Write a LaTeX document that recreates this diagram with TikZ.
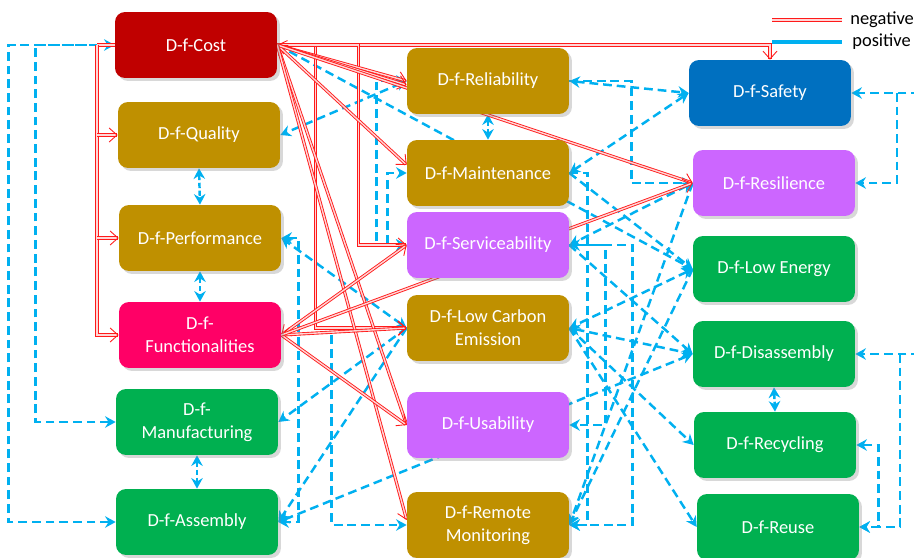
\documentclass[tikz,border=0pt]{standalone}
\usepackage{fontspec}
\setmainfont{Carlito}
\usetikzlibrary{arrows.meta,backgrounds,shadows}
\definecolor{costred}{HTML}{C00000}
\definecolor{gold}{HTML}{BF9000}
\definecolor{funcpink}{HTML}{FF0066}
\definecolor{grn}{HTML}{00B050}
\definecolor{purp}{HTML}{CC66FF}
\definecolor{safeblue}{HTML}{0070C0}
\definecolor{posblue}{HTML}{00B0F0}
\definecolor{negred}{HTML}{FF1A1A}
\definecolor{negfill}{HTML}{FFD6D6}
\begin{document}
\begin{tikzpicture}[x=0.02cm,y=-0.02cm,
 box/.style={rounded corners=0.2cm, minimum width=3.24cm, minimum height=1.32cm, text=white, align=center,
   font=\fontsize{10.5}{13}\selectfont, inner sep=2pt,
   drop shadow={opacity=0.3,shadow xshift=0.6mm,shadow yshift=-0.6mm}},
 posline/.style={draw=posblue, line width=1.4pt, dash pattern=on 5pt off 2.8pt, -{Stealth[length=6pt,width=6.5pt]}},
 posboth/.style={posline, {Stealth[length=6pt,width=6.5pt]}-{Stealth[length=6pt,width=6.5pt]}},
 posshort/.style={posboth, dash pattern=on 3pt off 1.5pt},
 negline/.style={draw=negred, line width=0.5pt, double=negfill, double distance=0.8pt, -{Straight Barb[length=4.5pt,width=8pt]}},
 negboth/.style={negline, {Straight Barb[length=4.5pt,width=8pt]}-{Straight Barb[length=4.5pt,width=8pt]}},
 negplain/.style={negline, -},
 legtext/.style={font=\fontsize{10.5}{13}\selectfont, text=black, anchor=west, inner sep=0pt}
]
\useasboundingbox (0,0) rectangle (914,558);

% nodes
\node[box, fill=costred] (cost) at (196,45) {D-f-Cost};
\node[box, fill=gold] (quality) at (199,135) {D-f-Quality};
\node[box, fill=gold] (perf) at (200,238) {D-f-Performance};
\node[box, fill=funcpink] (func) at (200,335) {D-f-\\Functionalities};
\node[box, fill=grn] (manu) at (197,422) {D-f-\\Manufacturing};
\node[box, fill=grn] (asm) at (197,522) {D-f-Assembly};

\node[box, fill=gold] (rel) at (488,81) {D-f-Reliability};
\node[box, fill=gold] (maint) at (488,173) {D-f-Maintenance};
\node[box, fill=purp] (serv) at (488,245) {D-f-Serviceability};
\node[box, fill=gold] (lce) at (488,328) {D-f-Low Carbon\\Emission};
\node[box, fill=purp] (usab) at (488,425) {D-f-Usability};
\node[box, fill=gold] (remote) at (488,525) {D-f-Remote\\Monitoring};

\node[box, fill=safeblue] (safety) at (770,93) {D-f-Safety};
\node[box, fill=purp] (resil) at (774,183) {D-f-Resilience};
\node[box, fill=grn] (lowen) at (774,269) {D-f-Low Energy};
\node[box, fill=grn] (disasm) at (774,354) {D-f-Disassembly};
\node[box, fill=grn] (recyc) at (775,445) {D-f-Recycling};
\node[box, fill=grn] (reuse) at (778,527) {D-f-Reuse};

% legend
\node[legtext] (negtxt) at (850,20) {negative};
\node[legtext] (postxt) at (852,42) {positive};
\coordinate (lnA) at (772,20);
\coordinate (lpA) at (772,42);

\coordinate (rb) at (97,45);
\coordinate (rA) at (920,93);
\coordinate (rB) at (920,354);

\begin{scope}[on background layer]
\fill[white] (0,0) rectangle (914,558);
% legend lines
\draw[negplain, line width=0.6pt, double distance=1.2pt] (lnA) -- ([xshift=-0.16cm]negtxt.west);
\draw[draw=posblue, line width=2.2pt] (lpA) -- ([xshift=-0.2cm]postxt.west);

% ---------- positive (blue dashed) ----------
\draw[posboth] (asm.west) -- ++(-107,0) |- (cost.west);
\draw[posline, {Stealth[length=6pt,width=6.5pt]}-] (manu.west) -- ++(-80,0) |- (cost.west);
\draw[posshort] (quality.south) -- (perf.north);
\draw[posshort] (perf.south) -- (func.north);
\draw[posshort] (manu.south) -- (asm.north);
\draw[posshort] (rel.south) -- (maint.north);
\draw[posshort] (disasm.south) -- (recyc.north);

\draw[posboth] (rel.west) -- (quality.east);
\draw[posboth] (serv.west) -- ++(-30,0) |- (rel.west);
\draw[posboth] (serv.west) -- ++(-19,0) |- (maint.west);
\draw[posline] (cost.east) -- (lowen.west);
\draw[posboth] (lce.west) -- (perf.east);
\draw[posboth] (perf.east) -- ++(17,0) |- (asm.east);
\draw[posline] (lce.west) -- (manu.east);
\draw[posline] (lce.west) -- (asm.east);
\draw[posboth] (disasm.west) -- (asm.east);
\draw[posline] (lce.west) -- ++(-75,0) |- (remote.west);

\draw[posboth] (rel.east) -- (safety.west);
\draw[posline] (rel.east) -- ++(62,0) |- (resil.west);
\draw[posboth] (safety.west) -- (maint.east);
\draw[posline] (maint.east) -- ++(18,0) |- (remote.east);
\draw[posboth] (serv.east) -- ++(63,0) |- (remote.east);
\draw[posline] (serv.east) -- ++(36,0) |- (usab.east);
\draw[posboth] (resil.west) -- (serv.east);
\draw[posline] (resil.west) -- (remote.east);
\draw[posboth] (lowen.west) -- (lce.east);
\draw[posline] (lowen.west) -- (remote.east);
\draw[posline] (maint.east) -- (lowen.west);
\draw[posline] (serv.east) -- (disasm.west);
\draw[posboth] (lce.east) -- (disasm.west);
\draw[posline] (lce.east) -- (recyc.west);
\draw[posline] (lce.east) -- (reuse.west);

\draw[posline] (rA) -- (safety.east);
\draw[posline] (safety.east -| 897,0) |- (resil.east);
\draw[posline] (rB) -- (disasm.east);
\draw[posline] (disasm.east -| 900,0) |- (reuse.east);
\draw[posboth] (recyc.east) -- ++(22,0) |- (reuse.east);

% ---------- negative (red double) ----------
\draw[negline] (cost.east) -| (safety.north);
\draw[negline] (cost.east) -- ++(38,0) |- (lce.west);
\draw[negline] (cost.east) -- ++(81,0) |- (serv.west);
\draw[negplain] (cost.west) -- (rb);
\draw[negline] (rb) |- (func.west);
\draw[negline] (rb |- quality.west) -- (quality.west);
\draw[negline] (rb |- perf.west) -- (perf.west);
\draw[negboth] (cost.east) -- (rel.west);
\draw[negline] (cost.east) -- ([yshift=-0.08cm]rel.west);
\draw[negboth] (cost.east) -- ([yshift=0.16cm]maint.west);
\draw[negline] (cost.east) -- (resil.west);
\draw[negline] (cost.east) -- (usab.west);
\draw[negline] (cost.east) -- ([yshift=0.1cm]remote.west);
\draw[negboth] (func.east) -- (serv.west);
\draw[negboth] (func.east) -- (lce.west);
\draw[negline] (func.east) -- (usab.west);
\draw[negline] (func.east) -- (resil.west);
\end{scope}
\end{tikzpicture}
\end{document}
